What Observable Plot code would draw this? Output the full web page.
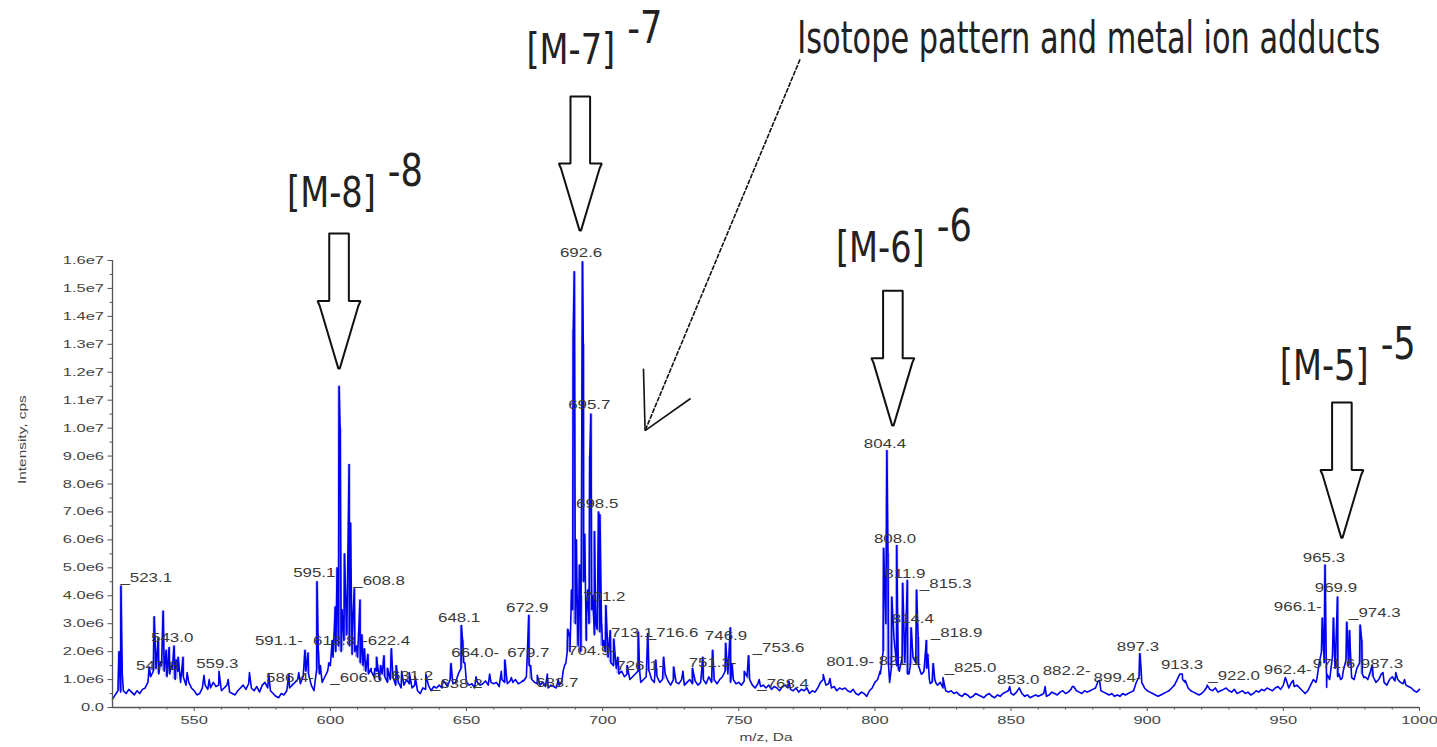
<!DOCTYPE html>
<html><head><meta charset="utf-8">
<script src="https://cdn.jsdelivr.net/npm/d3@7"></script>
<script src="https://cdn.jsdelivr.net/npm/@observablehq/plot@0.6"></script>
<style>html,body{margin:0;padding:0;background:#fff;} svg{display:block}</style>
</head><body><div id="chart"></div>
<script>
// ---------- DATA ----------
// baseline profile samples, one per Da from 520 to 1000 (intensity in 1e6 cps)
const baselineStart = 520;
const baseline = [
0.30,0.45,0.60,0.55,0.60,0.50,0.65,0.55,0.45,0.60,
0.50,0.65,0.70,0.90,1.10,1.30,1.40,1.20,1.50,1.30,
1.10,1.20,1.40,1.00,1.30,0.90,1.10,0.80,0.90,0.70,
0.60,0.45,0.50,0.70,0.80,0.65,0.70,0.90,0.75,0.80,
0.60,0.70,0.80,0.55,0.50,0.45,0.60,0.70,0.80,0.65,
0.85,0.70,0.60,0.75,0.55,0.80,0.90,0.70,0.60,0.50,
0.40,0.35,0.50,0.45,0.60,0.70,0.80,0.90,1.00,0.85,
1.10,1.30,1.20,0.80,0.60,1.40,1.20,0.90,1.10,1.30,
1.50,1.80,2.00,2.20,2.00,2.40,2.60,2.20,1.90,2.00,
1.80,1.60,1.50,1.30,1.20,1.40,1.10,1.30,1.00,1.20,
1.10,0.90,1.00,1.10,0.80,0.90,0.70,0.80,1.00,0.85,
0.70,0.80,0.60,0.50,0.70,0.65,0.80,0.60,0.75,0.70,
0.80,0.70,0.90,0.75,1.00,0.85,0.90,1.20,1.40,1.60,
0.90,0.80,0.85,0.70,0.90,0.80,0.85,0.95,0.80,0.90,
0.85,0.90,0.75,1.00,0.90,0.85,0.95,0.90,1.00,0.85,
0.90,0.95,1.10,1.50,1.00,0.90,0.85,0.80,0.90,0.75,
0.70,0.80,0.75,0.70,0.80,0.90,1.50,2.00,2.50,3.50,
3.00,2.20,2.00,4.50,2.40,3.00,3.50,2.60,2.80,2.70,
2.20,2.00,1.80,1.60,1.50,1.40,1.20,1.30,1.10,1.20,
1.00,1.10,1.20,1.30,0.90,1.00,1.10,1.30,1.00,0.90,
1.10,0.90,1.00,1.20,0.95,0.80,1.00,0.90,0.85,1.00,
0.80,0.90,1.00,0.85,0.95,0.80,0.90,1.00,0.85,1.10,
0.90,1.00,0.85,1.00,1.10,1.30,1.20,0.90,1.00,0.85,
0.90,0.80,0.95,1.10,1.00,0.80,0.70,0.85,0.75,0.80,
0.70,0.80,0.65,0.75,0.70,0.60,0.75,0.80,0.70,0.65,
0.60,0.70,0.55,0.65,0.60,0.70,0.50,0.60,0.55,0.70,
0.90,1.00,0.80,0.85,0.70,0.75,0.60,0.70,0.65,0.70,
0.60,0.55,0.65,0.50,0.45,0.55,0.50,0.40,0.60,0.70,
0.90,1.00,1.20,2.00,3.00,1.50,1.40,2.50,1.50,1.30,
1.80,1.60,1.20,1.50,1.80,1.60,1.50,1.20,1.30,1.40,
1.00,0.90,1.00,0.80,0.90,0.70,0.60,0.55,0.60,0.50,
0.55,0.45,0.40,0.50,0.45,0.35,0.40,0.50,0.45,0.40,
0.35,0.45,0.50,0.40,0.35,0.45,0.40,0.50,0.55,0.60,
0.50,0.45,0.55,0.70,0.50,0.40,0.45,0.35,0.40,0.45,
0.40,0.45,0.50,0.40,0.45,0.55,0.50,0.45,0.55,0.60,
0.50,0.55,0.65,0.75,0.60,0.55,0.50,0.60,0.55,0.60,
0.65,0.70,0.95,0.60,0.55,0.50,0.45,0.50,0.40,0.45,
0.40,0.50,0.45,0.50,0.55,0.60,0.90,1.10,0.90,0.70,
0.60,0.55,0.50,0.45,0.40,0.45,0.50,0.55,0.60,0.70,
0.80,1.00,1.20,1.00,0.90,0.70,0.60,0.55,0.50,0.45,
0.50,0.60,0.75,0.65,0.60,0.70,0.55,0.60,0.65,0.70,
0.60,0.55,0.65,0.50,0.55,0.60,0.50,0.55,0.45,0.50,
0.60,0.55,0.65,0.60,0.70,0.65,0.60,0.70,0.75,0.65,
0.80,1.00,0.70,0.90,0.75,0.80,0.70,0.60,0.50,0.60,
0.80,1.00,0.90,1.50,2.00,1.60,1.20,1.00,1.80,1.40,
1.10,1.00,1.30,1.70,1.50,1.20,1.00,1.40,1.60,1.20,
1.10,1.00,1.30,1.10,0.90,1.00,1.20,0.90,0.80,1.00,
1.10,0.95,1.00,0.90,0.85,0.80,0.75,0.70,0.60,0.55,
0.65
];
// peak apex samples [m/z, intensity 1e6 cps]
const peaks = [
[522.4,2.0],[523.1,4.35],[523.6,1.2],
[533.5,1.45],[535.3,3.25],[535.8,2.0],[536.8,2.5],[537.6,1.6],[538.6,3.45],[539.7,2.05],[540.8,2.15],[541.6,1.5],[542.6,2.2],[543.4,1.7],[544.1,1.8],[545.9,1.8],[547.4,1.25],
[553.6,1.15],[555.5,1.0],[559.1,1.3],[562.5,1.0],[570.3,1.25],[577.4,1.2],[584.8,1.2],[588.4,1.25],[590.7,2.05],[591.8,1.95],[595.1,4.5],[595.6,2.0],[596.3,1.5],
[599.5,1.6],[600.7,2.4],[601.8,3.6],[602.5,5.0],[603.2,11.5],[603.6,10.0],[604.3,3.5],[605.2,5.5],[606.1,3.0],[606.9,8.7],[607.4,6.6],[608.0,2.5],[608.8,4.25],[609.6,2.2],[610.9,3.85],[611.6,2.6],[612.5,2.1],[613.8,1.9],[615.0,1.3],[616.4,1.4],[617.0,1.8],[618.5,1.5],[619.7,1.85],[621.0,1.4],[622.4,2.1],[624.2,1.5],[626.2,1.3],[629.0,1.25],[631.2,1.1],[635.1,1.2],
[641.3,0.97],[644.3,1.57],[648.1,2.93],[648.6,2.4],[649.4,1.6],[653.5,1.1],[658.5,1.2],[662.8,1.3],[664.1,1.7],[666.5,1.07],[670.8,0.97],[672.9,3.3],[673.5,1.5],[676.0,1.15],[679.7,1.2],[683.7,1.0],
[685.5,1.3],[686.5,1.6],[687.2,2.8],[688.0,2.0],[688.6,4.2],[689.2,13.5],[689.6,15.6],[690.3,6.0],[690.8,3.0],[691.5,5.1],[692.1,4.0],[692.6,15.95],[692.9,13.0],[693.4,6.2],[694.0,3.2],[694.6,4.2],[695.3,9.0],[695.7,10.5],[696.3,4.0],[697.0,6.3],[697.5,3.0],[698.5,7.0],[699.0,6.9],[699.6,3.0],[700.4,2.4],[701.2,3.65],[701.7,2.5],[702.8,2.75],[704.1,2.45],[705.6,1.8],[706.8,1.3],[709.0,1.5],
[713.1,2.7],[713.6,1.3],[716.6,2.65],[717.1,1.3],[719.5,1.7],[722.4,1.8],[726.1,1.45],[729.5,1.3],[733.0,1.4],[736.8,1.8],[740.4,2.05],[745.2,2.3],[746.9,2.85],[747.5,1.57],[752.0,1.3],[753.6,1.85],[757.5,1.0],[768.4,0.95],[781.0,1.18],[783.5,1.04],
[801.9,1.3],[803.2,5.7],[804.4,9.2],[804.8,5.5],[805.4,0.9],[806.2,3.95],[808.0,5.8],[808.6,1.45],[810.2,4.45],[811.9,4.55],[812.5,1.2],[813.3,2.85],[815.3,4.2],[815.9,2.5],[817.3,1.2],[818.9,2.4],[819.4,1.9],[820.3,0.86],[821.4,1.57],[822.5,0.86],[825.0,1.07],
[849.5,0.75],[853.0,0.7],[862.5,0.75],[872.5,0.75],[882.5,0.97],[897.3,1.93],[897.8,1.3],[912.9,1.2],[914.0,0.97],[922.0,0.8],[950.7,1.07],[953.6,0.97],
[962.4,1.07],[964.3,3.2],[965.3,5.1],[965.9,0.72],[968.4,3.2],[969.9,3.95],[970.5,1.2],[971.6,1.04],[973.3,3.05],[974.3,2.75],[975.1,1.07],[978.2,2.95],[978.8,2.4],[979.6,1.07],[982.6,1.5],[986.6,1.25],[991.3,1.25],[994.5,1.0]
];
// peak labels: text, m/z position, intensity position
const peakLabelText = ["_523.1","543.0","547.8","559.3","591.1-","595.1","613.8","_608.8","-622.4","586.4-","_606.6","631.2","_638.2","648.1","664.0-","672.9","679.7","683.7","692.6","695.7","698.5","701.2","704.9-","713.1","_716.6","746.9","_753.6","726.1-","751.3-","_768.4","804.4","808.0","811.9","_815.3","814.4","_818.9","801.9-","821.1","_825.0","853.0","882.2-","899.4-","897.3","913.3","_922.0","962.4-","965.3","969.9","966.1-","_974.3","971.6","987.3"];
const peakLabelMz = [532.4,541.9,536.4,558.5,581.1,594.1,601.4,617.9,620.5,585.2,609.5,630.0,646.4,647.3,653.2,672.3,672.7,683.3,692.1,695.1,698.0,700.6,696.1,710.8,725.7,745.3,764.6,713.8,740.4,766.3,803.7,807.4,811.0,826.0,813.9,830.0,790.9,809.2,835.1,852.6,870.4,889.1,896.6,912.8,931.9,951.6,964.9,969.3,955.3,983.6,968.6,986.2];
const peakLabelY = [4.65,2.51,1.50,1.57,2.40,4.83,2.40,4.55,2.40,1.07,1.07,1.15,0.86,3.22,1.97,3.58,1.97,0.89,16.28,10.84,7.30,3.97,2.04,2.68,2.68,2.58,2.15,1.50,1.61,0.86,9.45,6.05,4.80,4.44,3.19,2.68,1.65,1.68,1.43,1.00,1.32,1.07,2.18,1.54,1.15,1.36,5.37,4.29,3.61,3.40,1.57,1.57];
// axes
const xTicks = [550,600,650,700,750,800,850,900,950,1000];
const xTickLabels = ["550","600","650","700","750","800","850","900","950","1000"];
const xMinorTicks = [530,540,560,570,580,590,610,620,630,640,660,670,680,690,710,720,730,740,760,770,780,790,810,820,830,840,860,870,880,890,910,920,930,940,960,970,980,990];
const yTicks = [0,1,2,3,4,5,6,7,8,9,10,11,12,13,14,15,16];
const yTickLabels = ["0.0","1.0e6","2.0e6","3.0e6","4.0e6","5.0e6","6.0e6","7.0e6","8.0e6","9.0e6","1.0e7","1.1e7","1.2e7","1.3e7","1.4e7","1.5e7","1.6e7"];
const yMinorTicks = [0.5,1.5,2.5,3.5,4.5,5.5,6.5,7.5,8.5,9.5,10.5,11.5,12.5,13.5,14.5,15.5];
const xTitle = "m/z, Da";
const yTitle = "Intensity, cps";
// ion annotations
const ionLabels = ["[M-8]","[M-7]","[M-6]","[M-5]"];
const ionCharges = ["-8","-7","-6","-5"];
const ionLabelMz = [600.4,688.3,802.0,965.0];
const ionLabelY = [17.90,23.05,15.93,11.74];
const arrowMz = [603.2,691.8,806.6,971.5];
const arrowTip = [12.13,17.07,10.09,6.08];
const arrowTop = [16.97,21.87,14.92,10.92];
const noteText = "Isotope pattern and metal ion adducts";
const noteMz = 771.5, noteY = 23.44;
const noteLine = [{x1:772.5, y1:23.2, x2:715.6, y2:9.91}];
const noteBarbEnds = [[715.0,12.13],[732.3,11.06]];

// ---------- BUILD ----------
const baseAt = mz => baseline[Math.round(mz) - baselineStart];
const spectrum = baseline.map((v,i)=>({mz: baselineStart+i, intensity: v}))
  .concat(peaks.map(([mz,intensity])=>({mz,intensity})))
  .sort((a,b)=>a.mz-b.mz);
const fills = peaks.filter(([,v])=>v>=1.4).map(([mz,v])=>({mz, base: Math.min(baseAt(mz), v), intensity: v}));
const peakLabels = peakLabelText.map((t,i)=>({t, mz: peakLabelMz[i], y: peakLabelY[i]}));
const ions = ionLabels.map((t,i)=>({t, c: ionCharges[i], mz: ionLabelMz[i], y: ionLabelY[i]}));
const SHAFT = 3.6, HEAD = 7.9;
const arrowPts = arrowMz.flatMap((x,i)=>{
  const top = arrowTop[i], tip = arrowTip[i], L = top - tip, mid = tip + L/2, step = mid - 0.035*L;
  return [[x-SHAFT,top],[x+SHAFT,top],[x+SHAFT,mid],[x+HEAD,mid],[x+HEAD*0.9,step],[x+0.25,tip],[x-0.25,tip],[x-HEAD*0.9,step],[x-HEAD,mid],[x-SHAFT,mid],[x-SHAFT,top]]
    .map(([mz,y])=>({id:i, mz, y}));
});
const barbs = noteBarbEnds.map(([x,y])=>({x1: noteLine[0].x2, y1: noteLine[0].y2, x2: x, y2: y}));
const yFmt = new Map(yTicks.map((v,i)=>[v,yTickLabels[i]]));
const xFmt = new Map(xTicks.map((v,i)=>[v,xTickLabels[i]]));
const tag = name => () => name;

const chart = Plot.plot({
  width: 1437, height: 747,
  marginTop: 260, marginBottom: 40, marginLeft: 112, marginRight: 18,
  x: {domain: [520, 1000], axis: null},
  y: {domain: [0, 16], axis: null},
  style: {fontFamily: "'Liberation Sans', Arial, sans-serif", background: "#fff", overflow: "visible"},
  marks: [
    Plot.ruleX(fills, {x: "mz", y1: "base", y2: "intensity", stroke: "#7f7fff", strokeWidth: 3, strokeOpacity: 0.65}),
    Plot.line(spectrum, {x: "mz", y: "intensity", stroke: "#0000f0", strokeWidth: 1.6}),
    Plot.ruleX([520], {y1: 0, y2: 16, stroke: "#555", strokeWidth: 1.3}),
    Plot.ruleY([0], {x1: 520, x2: 1000, stroke: "#555", strokeWidth: 1.3}),
    Plot.axisY({ticks: yMinorTicks, tickSize: 2.5, tickFormat: () => "", stroke: "#555", label: null}),
    Plot.axisY({ticks: yTicks, tickSize: 4.5, tickPadding: 4, tickFormat: d => yFmt.get(d), stroke: "#555", fill: "#444", fontSize: 11, label: null}),
    Plot.axisX({ticks: xMinorTicks, tickSize: 2.5, tickFormat: () => "", stroke: "#555", label: null}),
    Plot.axisX({ticks: xTicks, tickSize: 4, tickPadding: 5, tickFormat: d => xFmt.get(d), stroke: "#555", fill: "#444", fontSize: 11, label: null}),
    Plot.text([xTitle], {frameAnchor: "bottom", dy: 33, text: d => d, fontSize: 11, fill: "#444", ariaLabel: tag("axis-title")}),
    Plot.text([yTitle], {frameAnchor: "left", dx: -90, rotate: -90, text: d => d, fontSize: 11, fill: "#444", ariaLabel: tag("axis-title")}),
    Plot.text(peakLabels, {x: "mz", y: "y", text: "t", fontSize: 13, fill: "#3a3a3a", ariaLabel: tag("peak-label")}),
    Plot.line(arrowPts, {x: "mz", y: "y", z: "id", stroke: "#111", strokeWidth: 2, strokeLinejoin: "miter"}),
    Plot.text(ions, {x: "mz", y: "y", text: "t", lineAnchor: "bottom", fontSize: 42, fill: "#222", fontFamily: "'DejaVu Sans', sans-serif", ariaLabel: tag("ion-label")}),
    Plot.text(ions, {x: "mz", y: "y", text: "c", lineAnchor: "bottom", dx: 74, dy: -21, fontSize: 44, fill: "#222", fontFamily: "'DejaVu Sans', sans-serif", ariaLabel: tag("ion-charge")}),
    Plot.text([noteText], {x: noteMz, y: noteY, text: d => d, textAnchor: "start", lineAnchor: "bottom", fontSize: 44, fill: "#222", fontFamily: "'DejaVu Sans', sans-serif", ariaLabel: tag("note-text")}),
    Plot.link(noteLine, {x1: "x1", y1: "y1", x2: "x2", y2: "y2", stroke: "#111", strokeWidth: 1.6, strokeDasharray: "5,1.2"}),
    Plot.link(barbs, {x1: "x1", y1: "y1", x2: "x2", y2: "y2", stroke: "#111", strokeWidth: 1.6})
  ]
});
document.getElementById("chart").append(chart);

// horizontal text proportions of the reference
const stretch = {"y-axis tick label":1.5, "x-axis tick label":1.5, "axis-title":1.4, "peak-label":1.3, "ion-label":0.8, "ion-charge":0.8, "note-text":0.69};
for (const [name, f] of Object.entries(stretch)) {
  chart.querySelectorAll(`g[aria-label="${name}"] text, text[aria-label="${name}"]`).forEach(t => {
    const w = t.getComputedTextLength();
    if (w > 0) { t.setAttribute("textLength", (w*f).toFixed(1)); t.setAttribute("lengthAdjust", "spacingAndGlyphs"); }
  });
}
</script></body></html>
